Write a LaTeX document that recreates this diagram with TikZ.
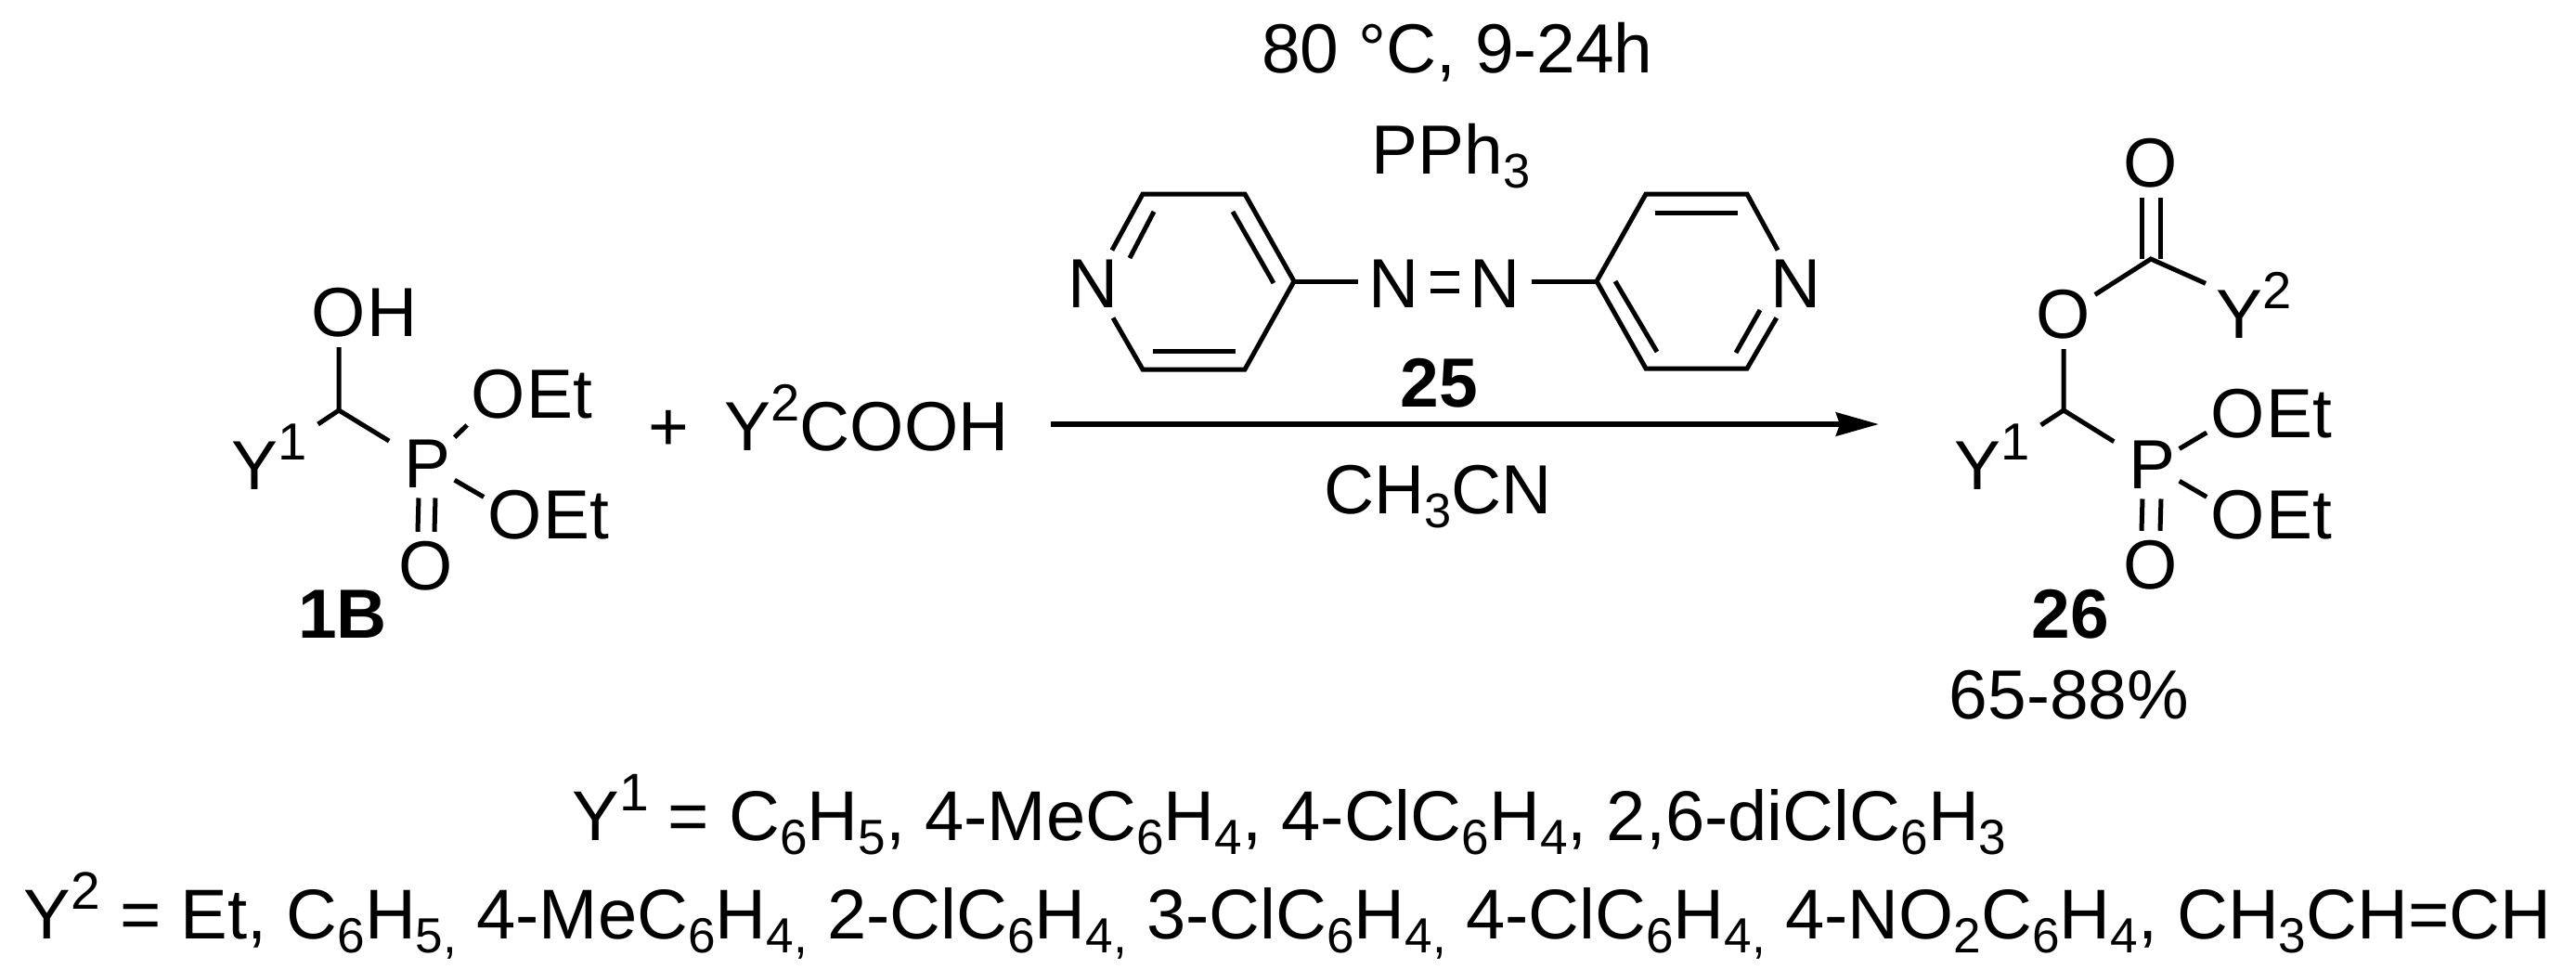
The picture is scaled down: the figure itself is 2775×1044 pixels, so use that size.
\documentclass[tikz,border=0pt]{standalone}
\usepackage{fontspec}
\setmainfont{Liberation Sans}
\usetikzlibrary{arrows.meta}

\newcommand{\chsub}[1]{\raisebox{-0.21em}{\scalebox{0.7}{#1}}}
\newcommand{\chsup}[1]{\raisebox{0.42em}{\scalebox{0.75}{#1}}}

\begin{document}
\begin{tikzpicture}[x=0.01cm,y=-0.01cm,font=\fontsize{21.3}{24}\selectfont]
      % Styles
      \tikzstyle{atom}=[inner xsep=0.04cm,inner ysep=0.1cm]
      \tikzstyle{wide atom}=[inner sep=0.11cm]
      \tikzstyle{tail}=[anchor=base west,inner sep=0pt,xshift=-0.04cm]
      \tikzstyle{label}=[anchor=base,inner sep=0pt]
      \tikzstyle{list text}=[label,font=\fontsize{21.6}{24}\selectfont]
      \tikzstyle{bond}=[line width=0.05cm]
      \tikzstyle{important line}=[line width=0.06cm]

      \useasboundingbox (0,0) rectangle (2775,1044);

      % Alcohol 1B
      \coordinate (ca) at (365,442);
      \node[atom] (oha) at (365,337) {O};
      \node[tail] (ohb) at (oha.base east) {H};
      \node[wide atom,anchor=base west,xshift=-0.11cm] (ya) at (249,527) {Y\chsup{1}};
      \node[atom] (pa) at (460,500) {P};
      \node[atom] (oa) at (537,425) {O};
      \node[tail] (eta) at (oa.base east) {Et};
      \node[atom] (ob) at (555,555) {O};
      \node[tail] (etb) at (ob.base east) {Et};
      \node[atom] (oc) at (459,610) {O};
      \node[label] (cmpa) at (369,687) {\textbf{1B}};
      \draw[style=bond] (oha) -- (ca) -- (ya);
      \draw[style=bond,shorten >=0.13cm] (ca) -- (pa);
      \draw[style=bond] (pa) -- (oa);
      \draw[style=bond] (pa) -- (ob);
      \foreach \s in {-0.09,0.09}
        \draw[style=bond] ([xshift=\s cm]pa.south) -- ([xshift=\s cm]oc.north);

      \node[label] (plus) at (720,485) {+};
      \node[label,anchor=base west] (acid) at (780,485) {Y\chsup{2}COOH};

      % Reaction conditions
      \node[label] (temp) at (1570,78) {80 °C, 9-24h};
      \node[label] (phos) at (1563,187) {PPh\chsub{3}};
      \node[label] (cmpb) at (1550,438) {\textbf{25}};
      \node[label] (solv) at (1549,553) {CH\chsub{3}CN};

      % Azopyridine
      \foreach \name/\x/\y in {a1/1231/209,a2/1341/209,a3/1394/303,a4/1341/398,a5/1231/398,
          b1/1720/303,b2/1773/209,b3/1882/209,b5/1882/397,b6/1773/397,
          i1/1243/228,i2/1217/278,i3/1328/228,i4/1372/305,i5/1242/378,i6/1331/378,
          j1/1783/229,j2/1872/229,j3/1740/303,j4/1785/379,j5/1896/334,j6/1870/380}
        \coordinate (\name) at (\x,\y);
      \node[atom] (nl) at (1178,306) {N};
      \node[wide atom] (na) at (1502,306) {N};
      \node[wide atom] (nb) at (1611,306) {N};
      \node[atom] (nr) at (1935,306) {N};
      \draw[style=bond] (nl) -- (a1) -- (a2) -- (a3) -- (a4) -- (a5) -- (nl);
      \draw[style=bond] (nr) -- (b3) -- (b2) -- (b1) -- (b6) -- (b5) -- (nr);
      \draw[style=bond] (a3) -- (a3 -| na.west);
      \draw[style=bond] (b1 -| nb.east) -- (b1);
      \draw[style=bond] ([yshift=0.12cm]na.east) -- ([yshift=0.12cm]nb.west);
      \draw[style=bond] ([yshift=-0.07cm]na.east) -- ([yshift=-0.07cm]nb.west);
      \foreach \a/\b in {i1/i2,i3/i4,i5/i6,j1/j2,j3/j4,j5/j6}
        \draw[style=bond] (\a) -- (\b);

      % Arrow
      \coordinate (start) at (1132,457);
      \coordinate (end) at (2024,457);
      \draw[style=important line,-{Stealth[length=0.46cm,width=0.25cm,inset=0.04cm]}] (start) -- (end);

      % Ester 26
      \coordinate (cb) at (2317,279);
      \coordinate (cc) at (2223,442);
      \node[atom] (od) at (2317,176) {O};
      \node[atom] (oe) at (2223,339) {O};
      \node[wide atom,anchor=base west,xshift=-0.11cm] (yb) at (2387,364) {Y\chsup{2}};
      \node[wide atom,anchor=base west,xshift=-0.11cm] (yc) at (2105,527) {Y\chsup{1}};
      \node[atom] (pb) at (2318,501) {P};
      \node[atom] (of) at (2411,446) {O};
      \node[tail] (etc) at (of.base east) {Et};
      \node[atom] (og) at (2411,555) {O};
      \node[tail] (etd) at (og.base east) {Et};
      \node[atom] (oh) at (2317,609) {O};
      \draw[style=bond] (oe) -- (cb) -- (yb);
      \draw[style=bond] (oe) -- (cc) -- (yc);
      \draw[style=bond,shorten >=0.13cm] (cc) -- (pb);
      \draw[style=bond] (pb) -- (of);
      \draw[style=bond] (pb) -- (og);
      \foreach \s in {-0.1,0.1} {
        \draw[style=bond] ([xshift=\s cm]cb) -- ([xshift=\s cm]od.south);
        \draw[style=bond] ([xshift=\s cm]pb.south) -- ([xshift=\s cm]oh.north);
      }
      \node[label] (cmpc) at (2230,687) {\textbf{26}};
      \node[label] (yield) at (2229,774) {65-88\%};

      % Substituents
      \node[list text] (ylista) at (1389,905) {Y\chsup{1} = C\chsub{6}H\chsub{5}, 4-MeC\chsub{6}H\chsub{4}, 4-ClC\chsub{6}H\chsub{4}, 2,6-diClC\chsub{6}H\chsub{3}};
      \node[list text] (ylistb) at (1387,1011) {Y\chsup{2} = Et, C\chsub{6}H\chsub{5,} 4-MeC\chsub{6}H\chsub{4,} 2-ClC\chsub{6}H\chsub{4,} 3-ClC\chsub{6}H\chsub{4,} 4-ClC\chsub{6}H\chsub{4,} 4-NO\chsub{2}C\chsub{6}H\chsub{4}, CH\chsub{3}CH=CH};
\end{tikzpicture}
\end{document}
